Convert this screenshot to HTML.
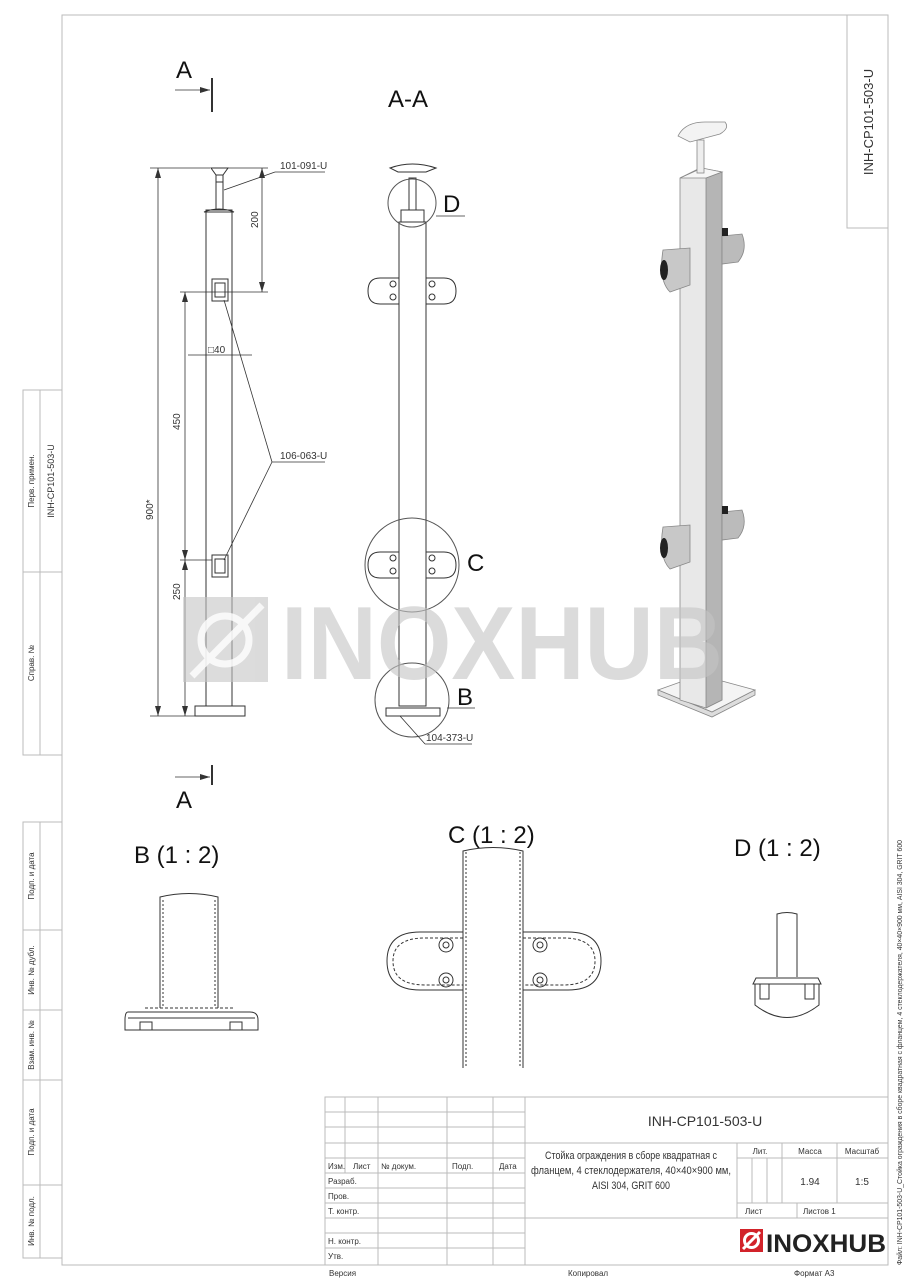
<!DOCTYPE html>
<html><head><meta charset="utf-8"><style>
html,body{margin:0;padding:0;background:#fff}
svg{display:block}
text{font-family:"Liberation Sans","DejaVu Sans",sans-serif}
.t{fill:#333}
</style></head><body>
<svg width="905" height="1280" viewBox="0 0 905 1280" xmlns="http://www.w3.org/2000/svg">
<rect width="905" height="1280" fill="#fff"/>
<g stroke="#bbb" stroke-width="1" fill="none">
<rect x="62" y="15" width="826" height="1250"/>
<rect x="847" y="15" width="41" height="213"/>
<rect x="23" y="390" width="39" height="365"/>
<line x1="40" y1="390" x2="40" y2="755"/><line x1="23" y1="572" x2="62" y2="572"/>
<rect x="23" y="822" width="39" height="436"/>
<line x1="40" y1="822" x2="40" y2="1258"/>
<line x1="23" y1="930" x2="62" y2="930"/><line x1="23" y1="1010" x2="62" y2="1010"/>
<line x1="23" y1="1080" x2="62" y2="1080"/><line x1="23" y1="1185" x2="62" y2="1185"/>
<rect x="325" y="1097" width="563" height="168"/>
<line x1="345" y1="1097" x2="345" y2="1173"/>
<line x1="378" y1="1097" x2="378" y2="1265"/>
<line x1="447" y1="1097" x2="447" y2="1265"/>
<line x1="493" y1="1097" x2="493" y2="1265"/>
<line x1="525" y1="1097" x2="525" y2="1265"/>
<line x1="325" y1="1112" x2="525" y2="1112"/><line x1="325" y1="1127" x2="525" y2="1127"/>
<line x1="325" y1="1143" x2="888" y2="1143"/><line x1="325" y1="1158" x2="525" y2="1158"/>
<line x1="325" y1="1173" x2="525" y2="1173"/><line x1="325" y1="1188" x2="525" y2="1188"/>
<line x1="325" y1="1203" x2="525" y2="1203"/><line x1="325" y1="1218" x2="888" y2="1218"/>
<line x1="325" y1="1233" x2="525" y2="1233"/><line x1="325" y1="1248" x2="525" y2="1248"/>
<line x1="737" y1="1143" x2="737" y2="1218"/>
<line x1="782" y1="1143" x2="782" y2="1203"/><line x1="837" y1="1143" x2="837" y2="1203"/>
<line x1="737" y1="1158" x2="888" y2="1158"/><line x1="737" y1="1203" x2="888" y2="1203"/>
<line x1="752" y1="1158" x2="752" y2="1203"/><line x1="767" y1="1158" x2="767" y2="1203"/>
<line x1="797" y1="1203" x2="797" y2="1218"/>
</g>
<g class="t" font-size="8">
<text transform="translate(34,481) rotate(-90)" text-anchor="middle">Перв. примен.</text>
<text transform="translate(54,481) rotate(-90)" text-anchor="middle" font-size="9">INH-CP101-503-U</text>
<text transform="translate(34,663) rotate(-90)" text-anchor="middle">Справ. №</text>
<text transform="translate(34,876) rotate(-90)" text-anchor="middle">Подп. и дата</text>
<text transform="translate(34,970) rotate(-90)" text-anchor="middle">Инв. № дубл.</text>
<text transform="translate(34,1045) rotate(-90)" text-anchor="middle">Взам. инв. №</text>
<text transform="translate(34,1132) rotate(-90)" text-anchor="middle">Подп. и дата</text>
<text transform="translate(34,1221) rotate(-90)" text-anchor="middle">Инв. № подл.</text>
<text transform="translate(873,122) rotate(-90)" text-anchor="middle" font-size="13">INH-CP101-503-U</text>
<text transform="translate(902,1265) rotate(-90)" font-size="7" textLength="425" lengthAdjust="spacingAndGlyphs">Файл: INH-CP101-503-U_Стойка ограждения в сборе квадратная с фланцем, 4 стеклодержателя, 40×40×900 мм, AISI 304, GRIT 600</text>
<text x="328" y="1169">Изм.</text><text x="353" y="1169">Лист</text><text x="381" y="1169">№ докум.</text><text x="452" y="1169">Подп.</text><text x="499" y="1169">Дата</text>
<text x="328" y="1184">Разраб.</text><text x="328" y="1199">Пров.</text><text x="328" y="1214">Т. контр.</text>
<text x="328" y="1244">Н. контр.</text><text x="328" y="1259">Утв.</text>
<text x="329" y="1276">Версия</text><text x="568" y="1276">Копировал</text><text x="794" y="1276">Формат A3</text>
<text x="705" y="1126" font-size="14" text-anchor="middle">INH-CP101-503-U</text>
<text x="631" y="1159" font-size="11" text-anchor="middle" textLength="172" lengthAdjust="spacingAndGlyphs">Стойка ограждения в сборе квадратная с</text>
<text x="631" y="1174" font-size="11" text-anchor="middle" textLength="200" lengthAdjust="spacingAndGlyphs">фланцем, 4 стеклодержателя, 40×40×900 мм,</text>
<text x="631" y="1189" font-size="11" text-anchor="middle" textLength="78" lengthAdjust="spacingAndGlyphs">AISI 304, GRIT 600</text>
<text x="760" y="1154" text-anchor="middle">Лит.</text><text x="810" y="1154" text-anchor="middle">Масса</text><text x="862" y="1154" text-anchor="middle">Масштаб</text>
<text x="810" y="1185" font-size="10" text-anchor="middle">1.94</text><text x="862" y="1185" font-size="10" text-anchor="middle">1:5</text>
<text x="745" y="1214">Лист</text><text x="803" y="1214">Листов 1</text>
</g>
<rect x="740" y="1229" width="23" height="23" fill="#d2232a"/>
<circle cx="751.5" cy="1240.5" r="7" fill="none" stroke="#fff" stroke-width="3"/>
<line x1="743" y1="1249" x2="760" y2="1232" stroke="#fff" stroke-width="3"/>
<text x="766" y="1252" font-size="25" font-weight="bold" fill="#222" textLength="120" lengthAdjust="spacingAndGlyphs">INOXHUB</text>

<!-- front view -->
<g stroke="#333" stroke-width="1" fill="none">
<rect x="206" y="210" width="26" height="496"/>
<path d="M204 212 Q219 206 234 212 Z"/>
<rect x="195" y="706" width="50" height="10" fill="#fff"/>
<rect x="216" y="182" width="7" height="28"/>
<path d="M211 168 L228 168 L223 175 L216 175 Z"/>
<rect x="216" y="175" width="7" height="7"/>
<rect x="212" y="279" width="16" height="22"/><rect x="215" y="283" width="10" height="14"/>
<rect x="212" y="555" width="16" height="22"/><rect x="215" y="559" width="10" height="14"/>
</g>
<g stroke="#333" stroke-width="0.8" fill="none">
<line x1="150" y1="168" x2="210" y2="168"/><line x1="150" y1="716" x2="195" y2="716"/>
<line x1="158" y1="168" x2="158" y2="716"/>
<line x1="228" y1="168" x2="268" y2="168"/><line x1="262" y1="168" x2="262" y2="292"/>
<line x1="180" y1="292" x2="268" y2="292"/>
<line x1="185" y1="292" x2="185" y2="716"/><line x1="180" y1="560" x2="212" y2="560"/>
<line x1="188" y1="355" x2="252" y2="355"/>
<line x1="224" y1="190" x2="275" y2="172"/><line x1="275" y1="172" x2="325" y2="172"/>
<line x1="224" y1="300" x2="272" y2="462"/><line x1="224" y1="560" x2="272" y2="462"/><line x1="272" y1="462" x2="325" y2="462"/>
<line x1="175" y1="90" x2="210" y2="90"/><line x1="212" y1="78" x2="212" y2="112" stroke-width="2"/>
<line x1="175" y1="777" x2="210" y2="777"/><line x1="212" y1="765" x2="212" y2="785" stroke-width="2"/>
</g>
<g fill="#333"><path d="M155 178 L158 168 L161 178Z"/><path d="M155 706 L158 716 L161 706Z"/>
<path d="M259 178 L262 168 L265 178Z"/><path d="M259 282 L262 292 L265 282Z"/>
<path d="M182 302 L185 292 L188 302Z"/><path d="M182 550 L185 560 L188 550Z"/><path d="M182 570 L185 560 L188 570Z"/><path d="M182 706 L185 716 L188 706Z"/>
<path d="M200 87 L210 90 L200 93Z"/><path d="M200 774 L210 777 L200 780Z"/></g>
<g class="t" font-size="10">
<text x="280" y="169">101-091-U</text><text x="280" y="459">106-063-U</text>
<text transform="translate(258,228) rotate(-90)">200</text>
<text transform="translate(180,430) rotate(-90)">450</text>
<text transform="translate(180,600) rotate(-90)">250</text>
<text transform="translate(153,520) rotate(-90)">900*</text>
<text x="208" y="353">□40</text>
<text x="426" y="741">104-373-U</text>
</g>
<g font-size="24" fill="#111"><text x="176" y="78">A</text><text x="176" y="808">A</text>
<text x="388" y="107">A-A</text><text x="443" y="212">D</text><text x="467" y="571">C</text><text x="457" y="705">B</text>
<text x="134" y="863">B (1 : 2)</text><text x="448" y="843">C (1 : 2)</text><text x="734" y="856">D (1 : 2)</text></g>

<!-- section A-A -->
<g stroke="#333" stroke-width="1" fill="none">
<rect x="399" y="222" width="27" height="484"/>
<rect x="401" y="210" width="23" height="12"/>
<rect x="409" y="178" width="7" height="32"/>
<path d="M390 168 Q412 160 436 168 L426 172 L398 172 Z"/>
<rect x="386" y="708" width="54" height="8"/>
<path d="M399 278 L380 278 Q368 278 368 291 Q368 304 380 304 L399 304Z"/>
<path d="M426 278 L444 278 Q456 278 456 291 Q456 304 444 304 L426 304Z"/>
<path d="M399 552 L380 552 Q368 552 368 565 Q368 578 380 578 L399 578Z"/>
<path d="M426 552 L444 552 Q456 552 456 565 Q456 578 444 578 L426 578Z"/>
<circle cx="393" cy="284" r="3"/><circle cx="393" cy="297" r="3"/><circle cx="432" cy="284" r="3"/><circle cx="432" cy="297" r="3"/>
<circle cx="393" cy="558" r="3"/><circle cx="393" cy="571" r="3"/><circle cx="432" cy="558" r="3"/><circle cx="432" cy="571" r="3"/>
<circle cx="412" cy="203" r="24" stroke="#555"/>
<circle cx="412" cy="565" r="47" stroke="#555"/>
<circle cx="412" cy="700" r="37" stroke="#555"/>
<line x1="436" y1="216" x2="465" y2="216" stroke-width="0.8"/>
<line x1="447" y1="708" x2="475" y2="708" stroke-width="0.8"/>
<line x1="400" y1="716" x2="425" y2="744" stroke-width="0.8"/><line x1="425" y1="744" x2="472" y2="744" stroke-width="0.8"/>
</g>

<!-- 3D view -->
<g stroke="#888" stroke-width="0.8">
<path d="M658 690 L700 675 L755 690 L712 712 Z" fill="#f4f4f4"/>
<path d="M658 690 L712 712 L755 690 L755 695 L712 717 L658 695 Z" fill="#ddd"/>
<path d="M680 178 L700 168 L722 172 L722 700 L706 708 L680 700 Z" fill="#e8e8e8"/>
<path d="M706 178 L722 172 L722 700 L706 708 Z" fill="#b5b5b5"/>
<path d="M680 178 L702 168 L722 172 L706 178 Z" fill="#f6f6f6"/>
<rect x="697" y="140" width="7" height="33" fill="#eee"/>
<path d="M678 136 Q685 122 705 122 L725 122 Q730 128 720 134 L690 142 Z" fill="#f3f3f3"/>
<path d="M663 250 L690 248 L690 285 L670 292 Q658 280 663 250Z" fill="#c8c8c8"/>
<path d="M722 236 L742 234 Q748 250 738 262 L722 264Z" fill="#bbb"/>
<path d="M663 527 L690 525 L690 562 L670 569 Q658 557 663 527Z" fill="#c8c8c8"/>
<path d="M722 512 L742 510 Q748 526 738 538 L722 540Z" fill="#bbb"/>
</g>
<g fill="#222"><ellipse cx="664" cy="270" rx="4" ry="10"/><ellipse cx="664" cy="548" rx="4" ry="10"/><rect x="722" y="228" width="6" height="8"/><rect x="722" y="506" width="6" height="8"/></g>

<!-- watermark (over drawing) -->
<g fill="#c4c4c4" opacity="0.6">
<rect x="183" y="597" width="85" height="85"/>
<text x="281" y="679" font-size="104" font-weight="bold" textLength="442" lengthAdjust="spacingAndGlyphs">INOXHUB</text>
</g>
<g fill="none" stroke="#fff" stroke-width="7" opacity="0.8"><circle cx="225" cy="640" r="24"/><line x1="192" y1="676" x2="262" y2="605"/></g>

<!-- detail B -->
<g stroke="#333" stroke-width="1" fill="none">
<path d="M160 1008 L160 897 Q189 890 218 897 L218 1008"/>
<line x1="163" y1="900" x2="163" y2="1008" stroke-dasharray="2,2"/><line x1="215" y1="900" x2="215" y2="1008" stroke-dasharray="2,2"/>
<path d="M128 1012 L250 1012 Q258 1012 258 1020 L258 1030 L125 1030 L125 1020 Q125 1012 128 1012Z"/>
<line x1="128" y1="1018" x2="255" y2="1018"/><line x1="145" y1="1008" x2="233" y2="1008" stroke-dasharray="3,2"/>
<rect x="140" y="1022" width="12" height="8"/><rect x="230" y="1022" width="12" height="8"/>
</g>
<!-- detail C -->
<g stroke="#333" stroke-width="1" fill="none">
<path d="M463 932 L420 932 Q387 932 387 961 Q387 990 420 990 L463 990"/>
<path d="M523 932 L568 932 Q601 932 601 961 Q601 990 568 990 L523 990"/>
<path d="M463 938 L425 938 Q393 938 393 961 Q393 985 425 985 L463 985" stroke-dasharray="3,2"/>
<path d="M523 938 L563 938 Q595 938 595 961 Q595 985 563 985 L523 985" stroke-dasharray="3,2"/>
<path d="M463 1068 L463 851 Q493 844 523 851 L523 1068" fill="#fff"/>
<line x1="466" y1="852" x2="466" y2="1068" stroke-dasharray="2,2"/><line x1="520" y1="852" x2="520" y2="1068" stroke-dasharray="2,2"/>
<circle cx="446" cy="945" r="7"/><circle cx="446" cy="945" r="3"/>
<circle cx="446" cy="980" r="7"/><circle cx="446" cy="980" r="3"/>
<circle cx="540" cy="945" r="7"/><circle cx="540" cy="945" r="3"/>
<circle cx="540" cy="980" r="7"/><circle cx="540" cy="980" r="3"/>
</g>
<!-- detail D -->
<g stroke="#333" stroke-width="1" fill="none">
<path d="M777 977 L777 914 Q787 911 797 914 L797 977"/>
<path d="M756 978 L818 978 L821 984 L753 984 Z"/>
<path d="M755 984 L755 1005 Q787 1030 819 1005 L819 984"/>
<rect x="760" y="984" width="9" height="15"/><rect x="805" y="984" width="9" height="15"/>
<line x1="769" y1="984" x2="805" y2="984"/>
</g>
</svg>
</body></html>
